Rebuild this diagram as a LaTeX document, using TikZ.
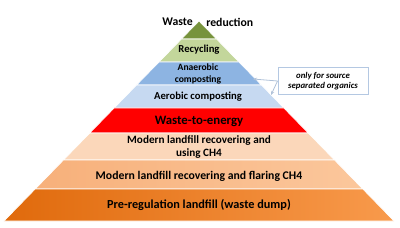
\documentclass[tikz,border=0pt]{standalone}
\usepackage{fontspec}
\setmainfont{Carlito}
\usetikzlibrary{arrows.meta}
\definecolor{tiptop}{HTML}{77933C}
\definecolor{recycl}{HTML}{C3D69B}
\definecolor{anaer}{HTML}{8DB4E2}
\definecolor{aerob}{HTML}{C6D9F1}
\definecolor{wte}{HTML}{FF0000}
\definecolor{usech}{HTML}{FBD7BA}
\definecolor{flareL}{HTML}{F7B07A}
\definecolor{flareR}{HTML}{FBC79C}
\definecolor{dumpL}{HTML}{E06A0C}
\definecolor{dumpR}{HTML}{F89A4C}
\definecolor{calloutline}{HTML}{B4C8E2}

\begin{document}
\begin{tikzpicture}[
    x=0.75pt, y=-0.75pt,
    tier/.style={draw=white, line width=0.5pt},
    label/.style={font=\bfseries\fontsize{8}{9.2}\selectfont, align=center, inner sep=0pt},
    note/.style={rectangle, draw=calloutline, fill=white, line width=0.7pt,
                 font=\bfseries\itshape\fontsize{6.6}{8}\selectfont,
                 align=center, minimum width=67.5pt, minimum height=17.5pt},
    pointer/.style={draw=calloutline!90!gray, line width=0.6pt, -{Stealth[length=3pt,width=2.5pt]}}
]
\useasboundingbox (0,0) rectangle (400,228);

% pyramid tiers: top y / bottom y / left colour / right colour
\foreach \yt/\yb/\cl/\cr in {21/39/tiptop/tiptop, 39/62/recycl/recycl,
                             62/85/anaer/anaer, 85/108/aerob/aerob,
                             108/133/wte/wte, 133/160/usech/usech,
                             160/189/flareL/flareR, 189/221/dumpL/dumpR}
  \shade[tier, left color=\cl, right color=\cr]
    ({199-0.975*(\yt-21)},\yt) -- ({199+0.975*(\yt-21)},\yt)
    -- ({199+0.975*(\yb-21)},\yb) -- ({199-0.975*(\yb-21)},\yb) -- cycle;

\node[label, font=\bfseries\fontsize{8.8}{10}\selectfont, anchor=east] (waste) at (193,22) {Waste};
\node[label, font=\bfseries\fontsize{8.8}{10}\selectfont, anchor=west] (reduct) at (206,22) {reduction};
\node[label] (recycling) at (199,50) {Recycling};
\node[label, font=\bfseries\fontsize{7.2}{9.6}\selectfont] (anaerobic) at (198,74) {Anaerobic\\composting};
\node[label] (aerobic) at (198,97) {Aerobic composting};
\node[label, font=\bfseries\fontsize{9.6}{11}\selectfont] (energy) at (199,121) {Waste-to-energy};
\node[label, font=\bfseries\fontsize{8.4}{9.6}\selectfont] (usingch) at (199,147) {Modern landfill recovering and\\using CH4};
\node[label, font=\bfseries\fontsize{8.8}{10}\selectfont] (flaring) at (199,176) {Modern landfill recovering and flaring CH4};
\node[label, font=\bfseries\fontsize{9.2}{10}\selectfont] (dump) at (199,205) {Pre-regulation landfill (waste dump)};

% callout
\node[note] (organics) at (323,81) {only for source\\separated organics};
\coordinate (anaend) at (253,79);
\coordinate (aeroend) at (271,95);
\draw[pointer] (organics.west) -- (anaend);
\draw[pointer] (organics.west) -- (aeroend);
\end{tikzpicture}
\end{document}
